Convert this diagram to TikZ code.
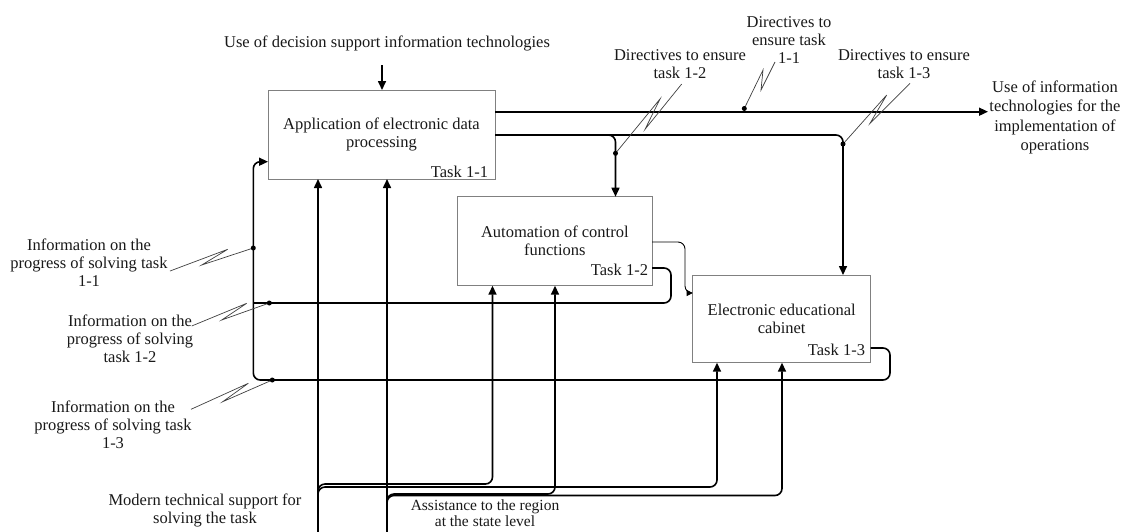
\documentclass[tikz,border=0pt]{standalone}
\usepackage{fontspec}
\setmainfont{Liberation Serif}
\usetikzlibrary{arrows.meta}
\begin{document}
\begin{tikzpicture}[x=1pt,y=-1pt,
  every node/.style={font=\fontsize{16.5}{18}\selectfont, text=black!90, inner sep=0pt, outer sep=0pt},
  box/.style={draw=black!50, line width=1pt, fill=white, align=center},
  flow/.style={line width=1.6pt, black, rounded corners=7pt},
  arr/.style={-{Triangle[length=9pt,width=8pt]}},
  thinflow/.style={line width=0.9pt, black, rounded corners=7pt},
  leader/.style={line width=0.7pt, black!75},
  dotnode/.style={circle, fill=black, minimum size=5pt, inner sep=0pt},
  lbl/.style={align=center}]
\fill[white] (0,0) rectangle (1131,531);
\useasboundingbox (0,0) rectangle (1131,531);

% boxes
\node[box,minimum width=227pt,minimum height=89pt] (b1) at (381.5,134.5) {Application of electronic data\\processing};
\node[box,minimum width=194.3pt,minimum height=89pt] (b2) at (554.85,241.2) {Automation of control\\functions};
\node[box,minimum width=178pt,minimum height=87.7pt] (b3) at (781.7,318.85) {Electronic educational\\cabinet};
\node[anchor=base east] (k1) at (488,177.5) {Task 1-1};
\node[anchor=base east] (k2) at (648,275.5) {Task 1-2};
\node[anchor=base east] (k3) at (865,355.5) {Task 1-3};

% labels
\node[lbl] (lin) at (387,43) {Use of decision support information technologies};
\node[lbl,font=\fontsize{16.5}{19.5}\selectfont] (lout) at (1055,117.5) {Use of information\\technologies for the\\implementation of\\operations};
\node[lbl] (ld1) at (789,40.5) {Directives to\\ensure task\\1-1};
\node[lbl] (ld2) at (680,64.5) {Directives to ensure\\task 1-2};
\node[lbl] (ld3) at (904,64.5) {Directives to ensure\\task 1-3};
\node[lbl] (lf1) at (89,263) {Information on the\\progress of solving task\\1-1};
\node[lbl] (lf2) at (130,338.5) {Information on the\\progress of solving\\task 1-2};
\node[lbl] (lf3) at (113,425) {Information on the\\progress of solving task\\1-3};
\node[lbl] (lm1) at (205,510) {Modern technical support for\\solving the task};
\node[lbl,font=\fontsize{15.5}{16}\selectfont] (lm2) at (485,513) {Assistance to the region\\at the state level};

% coordinates
\coordinate (in1) at (382,65);
\coordinate (o1) at (495,111.7);
\coordinate (o1e) at (988,111.7);
\coordinate (o2) at (495,135);
\coordinate (c2) at (615.5,135);
\coordinate (c3) at (843,135);
\coordinate (p1) at (652,242);
\coordinate (p2) at (685,242);
\coordinate (p3) at (685,293);
\coordinate (f2a) at (652,268);
\coordinate (f2b) at (671,268);
\coordinate (f2c) at (671,303);
\coordinate (f2d) at (253.3,303);
\coordinate (f3a) at (870.7,348);
\coordinate (f3b) at (890,348);
\coordinate (f3c) at (890,380);
\coordinate (f3d) at (253.3,380);
\coordinate (f3e) at (253.3,161.7);
\coordinate (m1) at (318,535);
\coordinate (m2) at (387,535);
\coordinate (m1a) at (318,484);
\coordinate (m1b) at (492.5,484);
\coordinate (m1c) at (318,487);
\coordinate (m1d) at (717,487);
\coordinate (m2a) at (387,494);
\coordinate (m2b) at (555,494);
\coordinate (m2c) at (387,495.5);
\coordinate (m2d) at (782,495.5);

% connectors
\draw[flow,arr] (in1) -- (in1 |- b1.north);
\draw[flow,arr] (o1) -- (o1e);
\draw[flow,arr] (o2) -- (c3) -- (c3 |- b3.north);
\draw[flow,arr] (o2) -- (c2) -- (c2 |- b2.north);
\draw[thinflow,-{Triangle[length=6pt,width=6pt]}] (p1) -- (p2) -- (p3) -- (p3 -| b3.west);
\draw[flow] (f2a) -- (f2b) -- (f2c) -- (f2d);
\draw[flow,arr] (f3a) -- (f3b) -- (f3c) -- (f3d) -- (f3e) -- (f3e -| b1.west);
\draw[flow,arr] (m1) -- (m1 |- b1.south);
\draw[flow,arr] (m2) -- (m2 |- b1.south);
\draw[flow,arr] (m1) -- (m1a) -- (m1b) -- (m1b |- b2.south);
\draw[flow,arr] (m1) -- (m1c) -- (m1d) -- (m1d |- b3.south);
\draw[flow,arr] (m2) -- (m2a) -- (m2b) -- (m2b |- b2.south);
\draw[flow,arr] (m2) -- (m2c) -- (m2d) -- (m2d |- b3.south);

% dots and leaders
\coordinate (d11) at (744.3,108.5);
\coordinate (d12) at (615.5,153.3);
\coordinate (d13) at (843,144);
\coordinate (di1) at (253.3,248);
\coordinate (di2) at (269.3,303);
\coordinate (di3) at (272.3,380);
\draw[leader] (d11) -- (763,70) -- (761,90) -- (775,62);
\draw[leader] (d12) -- (660,99) -- (645,129.3) -- (681.7,84);
\draw[leader] (d13) -- (886.7,95) -- (870,123.3) -- (910,83.3);
\draw[leader] (di1) -- (201.7,265) -- (227.7,249.3) -- (170,271);
\draw[leader] (di2) -- (221.7,320) -- (246.7,303.3) -- (191.7,326);
\draw[leader] (di3) -- (222.7,401.7) -- (248.3,383.3) -- (191,409.3);
\foreach \d in {d11,d12,d13,di1,di2,di3} \node[dotnode] at (\d) {};
\end{tikzpicture}
\end{document}
